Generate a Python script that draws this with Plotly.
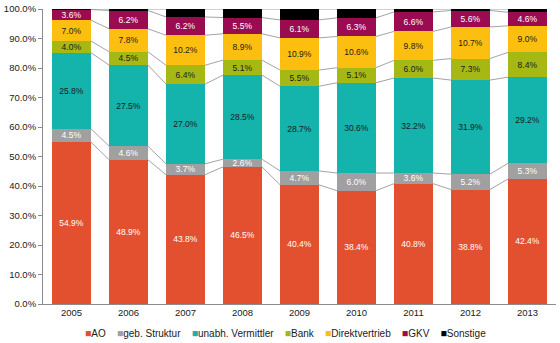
import numpy as np
import plotly.graph_objects as go

years = ["2005", "2006", "2007", "2008", "2009", "2010", "2011", "2012", "2013"]

ao = [54.9, 48.9, 43.8, 46.5, 40.4, 38.4, 40.8, 38.8, 42.4]
geb_struktur = [4.5, 4.6, 3.7, 2.6, 4.7, 6.0, 3.6, 5.2, 5.3]
unabh_vermittler = [25.8, 27.5, 27.0, 28.5, 28.7, 30.6, 32.2, 31.9, 29.2]
bank = [4.0, 4.5, 6.4, 5.1, 5.5, 5.1, 6.0, 7.3, 8.4]
direktvertrieb = [7.0, 7.8, 10.2, 8.9, 10.9, 10.6, 9.8, 10.7, 9.0]
gkv = [3.6, 6.2, 6.2, 5.5, 6.1, 6.3, 6.6, 5.6, 4.6]
sonstige = [0.2, 0.5, 2.7, 2.9, 3.7, 3.0, 1.0, 0.5, 1.1]

series = [
    ("AO", ao, "#E3502F", "#FFFFFF", True),
    ("geb. Struktur", geb_struktur, "#A0A0A0", "#FFFFFF", True),
    ("unabh. Vermittler", unabh_vermittler, "#14B3AC", "#1A1A1A", True),
    ("Bank", bank, "#A6B814", "#1A1A1A", True),
    ("Direktvertrieb", direktvertrieb, "#FCBF10", "#1A1A1A", True),
    ("GKV", gkv, "#9A0C4F", "#FFFFFF", True),
    ("Sonstige", sonstige, "#000000", "#FFFFFF", False),
]

x = np.arange(len(years))
bar_w = 0.68
font = "Liberation Sans, Arial, sans-serif"

fig = go.Figure()

# series lines joining the top of each stacked segment across neighbouring bars
cum = np.zeros(len(years))
lx, ly = [], []
for name, vals, *_ in series:
    cum = cum + np.array(vals)
    for i in range(len(years) - 1):
        lx += [x[i] + bar_w / 2, x[i + 1] - bar_w / 2, None]
        ly += [cum[i], cum[i + 1], None]
fig.add_trace(go.Scatter(
    x=lx, y=ly, mode="lines", line=dict(color="#8C8C8C", width=0.8),
    hoverinfo="skip", showlegend=False,
))

for name, vals, color, tcolor, labelled in series:
    fig.add_trace(go.Bar(
        x=x, y=vals, name=name, width=bar_w,
        marker=dict(color=color, line=dict(width=0)),
        text=[f"{v:.1f}%" for v in vals] if labelled else None,
        textposition="inside" if labelled else "none",
        insidetextanchor="middle",
        textangle=0,
        textfont=dict(family=font, size=8.5, color=tcolor),
        showlegend=False,
    ))

# compact legend row beneath the axis
items = []
for name, vals, color, *_ in series:
    items.append(f'<span style="color:{color};font-size:10.5px">■</span>{name}')
legend_text = "&nbsp;&nbsp;&nbsp;&nbsp;".join(items)
fig.add_annotation(
    text=legend_text, xref="paper", yref="paper",
    x=(285.5 - 43) / 513, y=0.0, yshift=-29,
    xanchor="center", yanchor="middle", showarrow=False,
    font=dict(family=font, size=10, color="#1A1A1A"),
)

fig.update_layout(
    barmode="stack",
    width=560, height=343,
    margin=dict(l=43, r=4, t=9, b=39),
    plot_bgcolor="white", paper_bgcolor="white",
    font=dict(family=font, size=9.5, color="#333333"),
    uniformtext=dict(minsize=8.5, mode="show"),
    showlegend=False,
)
fig.update_xaxes(
    range=[-0.5, len(years) - 0.5],
    tickvals=x, ticktext=years,
    showline=True, linecolor="#8C8C8C", linewidth=1,
    ticks="", showgrid=False, zeroline=False,
    tickfont=dict(family=font, size=9.5, color="#1A1A1A"),
)
fig.update_yaxes(
    range=[0, 100], dtick=10, tickformat=".1f", ticksuffix="%",
    showline=True, linecolor="#8C8C8C", linewidth=1,
    ticks="outside", ticklen=4, tickcolor="#8C8C8C",
    showgrid=False, zeroline=False,
    tickfont=dict(family=font, size=9.5, color="#1A1A1A"),
)

fig.write_html("out.html")
